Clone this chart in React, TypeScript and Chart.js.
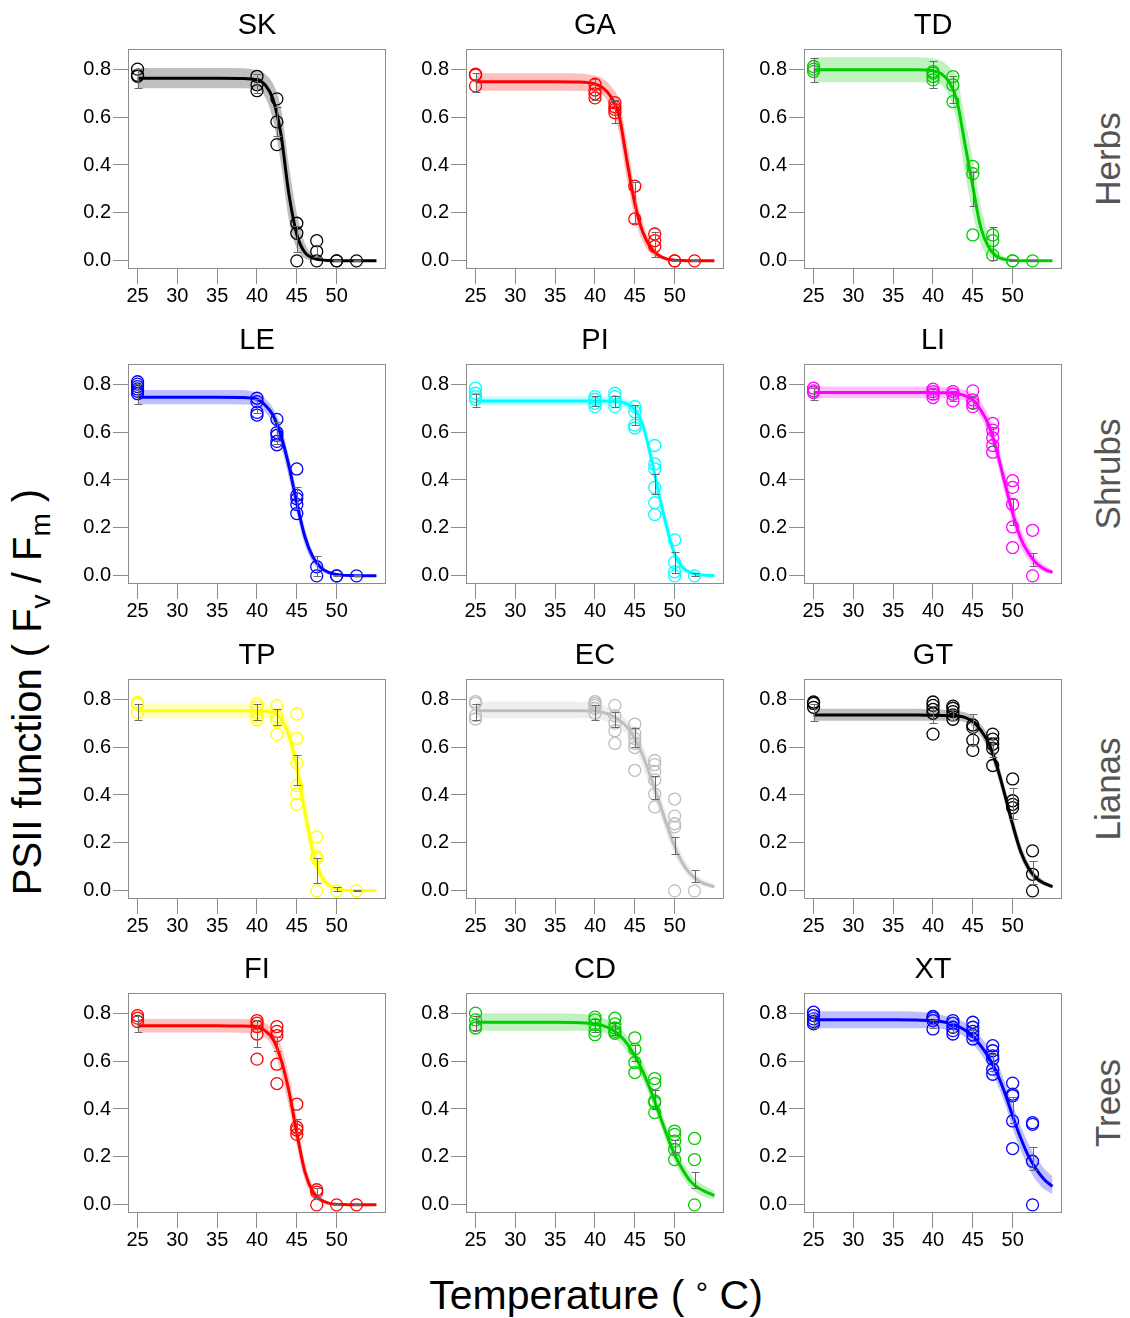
import React, { useEffect, useRef } from 'react';
import { Chart, registerables } from 'chart.js';

Chart.register(...registerables);

// ---------- shared axes / sampling ----------
const TEMPS_FIT = [25, 30, 35, 38, 40, 41, 42, 43, 44, 45, 46, 47, 48, 49, 50, 51, 52, 53, 54, 55];
const TEMPS_OBS = [25, 40, 42.5, 45, 47.5, 50, 52.5];
const X_TICKS = [25, 30, 35, 40, 45, 50];
const Y_TICKS = [0, 0.2, 0.4, 0.6, 0.8];
const ROW_LABELS = ['Herbs', 'Shrubs', 'Lianas', 'Trees'];

// ---------- SK ----------
const SK_FIT = [0.762, 0.762, 0.762, 0.761, 0.755, 0.735, 0.675, 0.53, 0.28, 0.11, 0.035, 0.012, 0.004, 0.001, 0, 0, 0, 0, 0, 0];
const SK_LO = [0.72, 0.72, 0.72, 0.72, 0.715, 0.685, 0.59, 0.41, 0.17, 0.05, 0.01, 0.002, 0, 0, 0, 0, 0, 0, 0, 0];
const SK_HI = [0.805, 0.805, 0.805, 0.804, 0.795, 0.78, 0.74, 0.64, 0.4, 0.2, 0.075, 0.028, 0.01, 0.003, 0.001, 0, 0, 0, 0, 0];
const SK_PTS = [[0.8, 0.775, 0.77], [0.77, 0.735, 0.71], [0.676, 0.58, 0.485], [0.157, 0.115, 0], [0.084, 0.039, 0], [0, 0], [0]];
const SK_ERR = [[0.72, 0.8], [0.7, 0.78], [0.52, 0.64], [0.035, 0.145], [0.016, 0.066], [0, 0.003], [0, 0.003]];

// ---------- GA ----------
const GA_FIT = [0.747, 0.747, 0.747, 0.746, 0.738, 0.722, 0.685, 0.61, 0.42, 0.24, 0.12, 0.055, 0.022, 0.008, 0.003, 0.001, 0, 0, 0, 0];
const GA_LO = [0.71, 0.71, 0.71, 0.709, 0.705, 0.69, 0.64, 0.54, 0.34, 0.18, 0.08, 0.03, 0.01, 0.002, 0, 0, 0, 0, 0, 0];
const GA_HI = [0.783, 0.783, 0.783, 0.782, 0.772, 0.76, 0.73, 0.67, 0.5, 0.3, 0.16, 0.08, 0.035, 0.012, 0.005, 0.002, 0, 0, 0, 0];
const GA_PTS = [[0.779, 0.775, 0.73], [0.737, 0.713, 0.697, 0.68], [0.66, 0.643, 0.632, 0.618], [0.312, 0.175], [0.112, 0.084, 0.06], [0, 0], [0]];
const GA_ERR = [[0.706, 0.783], [0.67, 0.76], [0.575, 0.67], [0.16, 0.33], [0.015, 0.12], [0, 0.004], [0, 0.003]];

// ---------- TD ----------
const TD_FIT = [0.797, 0.797, 0.797, 0.797, 0.793, 0.782, 0.748, 0.67, 0.49, 0.31, 0.14, 0.056, 0.018, 0.006, 0.002, 0, 0, 0, 0, 0];
const TD_LO = [0.745, 0.745, 0.745, 0.745, 0.745, 0.735, 0.69, 0.58, 0.37, 0.2, 0.07, 0.02, 0.005, 0, 0, 0, 0, 0, 0, 0];
const TD_HI = [0.85, 0.85, 0.85, 0.85, 0.845, 0.835, 0.81, 0.76, 0.6, 0.42, 0.23, 0.11, 0.04, 0.015, 0.005, 0.001, 0, 0, 0, 0];
const TD_PTS = [[0.811, 0.8, 0.79], [0.79, 0.783, 0.769, 0.755], [0.769, 0.734, 0.664], [0.394, 0.364, 0.108], [0.108, 0.084, 0.024], [0, 0], [0]];
const TD_ERR = [[0.745, 0.846], [0.72, 0.836], [0.66, 0.77], [0.23, 0.37], [0.002, 0.14], [0, 0.003], [0, 0.003]];

// ---------- LE ----------
const LE_FIT = [0.745, 0.745, 0.745, 0.744, 0.737, 0.713, 0.671, 0.586, 0.46, 0.305, 0.165, 0.08, 0.035, 0.014, 0.006, 0.002, 0.001, 0, 0, 0];
const LE_LO = [0.716, 0.716, 0.716, 0.715, 0.71, 0.685, 0.635, 0.54, 0.41, 0.26, 0.13, 0.055, 0.02, 0.006, 0.002, 0, 0, 0, 0, 0];
const LE_HI = [0.776, 0.776, 0.776, 0.775, 0.762, 0.74, 0.7, 0.625, 0.5, 0.35, 0.2, 0.1, 0.05, 0.02, 0.01, 0.004, 0.002, 0.001, 0, 0];
const LE_PTS = [[0.81, 0.8, 0.79, 0.78, 0.77, 0.76], [0.741, 0.727, 0.682, 0.671], [0.653, 0.598, 0.586, 0.561, 0.547], [0.446, 0.336, 0.322, 0.298, 0.26], [0.038, 0], [0, 0], [0]];
const LE_ERR = [[0.716, 0.8], [0.68, 0.74], [0.55, 0.64], [0.28, 0.37], [0, 0.084], [0, 0.004], [0, 0.003]];

// ---------- PI ----------
const PI_FIT = [0.73, 0.73, 0.73, 0.73, 0.73, 0.73, 0.729, 0.726, 0.718, 0.695, 0.63, 0.5, 0.345, 0.205, 0.09, 0.035, 0.013, 0.005, 0.002, 0.001];
const PI_LO = [0.712, 0.712, 0.712, 0.712, 0.712, 0.712, 0.71, 0.705, 0.7, 0.67, 0.6, 0.46, 0.305, 0.17, 0.065, 0.022, 0.007, 0.002, 0, 0];
const PI_HI = [0.748, 0.748, 0.748, 0.748, 0.748, 0.748, 0.746, 0.744, 0.735, 0.715, 0.66, 0.54, 0.385, 0.24, 0.115, 0.05, 0.02, 0.009, 0.004, 0.002];
const PI_PTS = [[0.783, 0.762, 0.748, 0.737], [0.748, 0.737, 0.72, 0.706], [0.762, 0.748, 0.727, 0.706], [0.706, 0.685, 0.629, 0.617], [0.544, 0.467, 0.446, 0.369, 0.305, 0.256], [0.15, 0.056, 0.017, 0], [0]];
const PI_ERR = [[0.705, 0.76], [0.71, 0.75], [0.705, 0.75], [0.63, 0.713], [0.34, 0.425], [0.01, 0.1], [0, 0.01]];

// ---------- LI ----------
const LI_FIT = [0.765, 0.765, 0.765, 0.765, 0.765, 0.764, 0.763, 0.761, 0.752, 0.734, 0.692, 0.629, 0.523, 0.39, 0.263, 0.158, 0.094, 0.052, 0.028, 0.014];
const LI_LO = [0.741, 0.741, 0.741, 0.741, 0.741, 0.741, 0.74, 0.738, 0.73, 0.705, 0.66, 0.59, 0.48, 0.345, 0.22, 0.12, 0.065, 0.033, 0.015, 0.007];
const LI_HI = [0.79, 0.79, 0.79, 0.79, 0.79, 0.789, 0.787, 0.784, 0.775, 0.76, 0.725, 0.665, 0.565, 0.435, 0.305, 0.2, 0.125, 0.075, 0.045, 0.025];
const LI_PTS = [[0.783, 0.772, 0.765], [0.779, 0.769, 0.758, 0.744], [0.769, 0.758, 0.73], [0.772, 0.734, 0.72, 0.706], [0.636, 0.608, 0.576, 0.544, 0.516], [0.397, 0.369, 0.298, 0.204, 0.118], [0.19, 0]];
const LI_ERR = [[0.735, 0.785], [0.74, 0.78], [0.73, 0.77], [0.7, 0.75], [0.54, 0.62], [0.214, 0.32], [0.041, 0.094]];

// ---------- TP ----------
const TP_FIT = [0.751, 0.751, 0.751, 0.751, 0.751, 0.75, 0.744, 0.72, 0.65, 0.516, 0.333, 0.165, 0.066, 0.024, 0.008, 0.003, 0.001, 0, 0, 0];
const TP_LO = [0.72, 0.72, 0.72, 0.72, 0.72, 0.719, 0.715, 0.685, 0.6, 0.45, 0.27, 0.12, 0.04, 0.012, 0.003, 0, 0, 0, 0, 0];
const TP_HI = [0.783, 0.783, 0.783, 0.783, 0.782, 0.78, 0.775, 0.755, 0.7, 0.58, 0.4, 0.22, 0.1, 0.04, 0.014, 0.005, 0.002, 0, 0, 0];
const TP_PTS = [[0.786, 0.778, 0.744], [0.779, 0.767, 0.744, 0.727, 0.713], [0.772, 0.727, 0.71, 0.653], [0.738, 0.636, 0.533, 0.439, 0.405, 0.361], [0.225, 0.143, 0.134, 0], [0], [0]];
const TP_ERR = [[0.715, 0.78], [0.715, 0.78], [0.69, 0.76], [0.44, 0.565], [0.034, 0.136], [0, 0.015], [0, 0.003]];

// ---------- EC ----------
const EC_FIT = [0.752, 0.752, 0.752, 0.752, 0.75, 0.744, 0.733, 0.713, 0.685, 0.636, 0.565, 0.474, 0.376, 0.277, 0.186, 0.115, 0.07, 0.042, 0.027, 0.017];
const EC_LO = [0.72, 0.72, 0.72, 0.72, 0.718, 0.712, 0.705, 0.685, 0.65, 0.595, 0.515, 0.425, 0.33, 0.235, 0.15, 0.09, 0.05, 0.028, 0.016, 0.01];
const EC_HI = [0.79, 0.79, 0.79, 0.789, 0.785, 0.775, 0.76, 0.74, 0.715, 0.675, 0.61, 0.52, 0.42, 0.32, 0.225, 0.145, 0.095, 0.06, 0.04, 0.028];
const EC_PTS = [[0.79, 0.782, 0.731, 0.717], [0.79, 0.782, 0.774, 0.762, 0.741], [0.774, 0.731, 0.7, 0.668, 0.615], [0.696, 0.657, 0.636, 0.615, 0.598, 0.503], [0.544, 0.527, 0.498, 0.463, 0.404, 0.35], [0.383, 0.312, 0.28, 0.267, 0], [0]];
const EC_ERR = [[0.715, 0.78], [0.715, 0.775], [0.685, 0.745], [0.6, 0.68], [0.385, 0.48], [0.155, 0.225], [0.035, 0.085]];

// ---------- GT ----------
const GT_FIT = [0.734, 0.734, 0.734, 0.734, 0.733, 0.732, 0.731, 0.73, 0.724, 0.706, 0.671, 0.615, 0.523, 0.404, 0.277, 0.165, 0.094, 0.052, 0.031, 0.017];
const GT_LO = [0.71, 0.71, 0.71, 0.71, 0.71, 0.71, 0.709, 0.708, 0.705, 0.685, 0.645, 0.585, 0.49, 0.37, 0.245, 0.14, 0.075, 0.04, 0.022, 0.011];
const GT_HI = [0.76, 0.76, 0.76, 0.76, 0.758, 0.757, 0.755, 0.752, 0.745, 0.73, 0.695, 0.645, 0.555, 0.435, 0.31, 0.195, 0.115, 0.068, 0.042, 0.026];
const GT_PTS = [[0.788, 0.782, 0.766], [0.788, 0.774, 0.757, 0.741, 0.654], [0.771, 0.762, 0.748, 0.734, 0.716], [0.692, 0.682, 0.629, 0.586], [0.654, 0.633, 0.612, 0.594, 0.523], [0.467, 0.376, 0.361, 0.347], [0.167, 0.069, 0]];
const GT_ERR = [[0.71, 0.78], [0.7, 0.77], [0.715, 0.755], [0.61, 0.737], [0.56, 0.64], [0.298, 0.43], [0.03, 0.125]];

// ---------- FI ----------
const FI_FIT = [0.747, 0.747, 0.747, 0.746, 0.744, 0.727, 0.692, 0.608, 0.476, 0.3, 0.14, 0.056, 0.021, 0.007, 0.002, 0.001, 0, 0, 0, 0];
const FI_LO = [0.719, 0.719, 0.719, 0.718, 0.717, 0.7, 0.655, 0.55, 0.41, 0.245, 0.105, 0.035, 0.011, 0.003, 0, 0, 0, 0, 0, 0];
const FI_HI = [0.776, 0.776, 0.776, 0.775, 0.772, 0.76, 0.73, 0.665, 0.54, 0.36, 0.18, 0.08, 0.032, 0.011, 0.004, 0.001, 0, 0, 0, 0];
const FI_PTS = [[0.79, 0.779, 0.765], [0.769, 0.758, 0.744, 0.713, 0.608], [0.744, 0.724, 0.706, 0.587, 0.506], [0.42, 0.324, 0.312, 0.294], [0.063, 0.053, 0], [0], [0]];
const FI_ERR = [[0.72, 0.79], [0.66, 0.77], [0.643, 0.7], [0.3, 0.36], [0.03, 0.07], [0, 0.003], [0, 0.003]];

// ---------- CD ----------
const CD_FIT = [0.762, 0.762, 0.762, 0.76, 0.755, 0.748, 0.734, 0.71, 0.674, 0.622, 0.557, 0.476, 0.385, 0.294, 0.21, 0.147, 0.098, 0.07, 0.053, 0.039];
const CD_LO = [0.727, 0.727, 0.727, 0.726, 0.725, 0.718, 0.705, 0.68, 0.64, 0.585, 0.52, 0.44, 0.35, 0.26, 0.175, 0.115, 0.072, 0.045, 0.03, 0.022];
const CD_HI = [0.8, 0.8, 0.8, 0.797, 0.79, 0.78, 0.765, 0.74, 0.705, 0.655, 0.595, 0.515, 0.42, 0.33, 0.245, 0.18, 0.13, 0.095, 0.075, 0.06];
const CD_PTS = [[0.8, 0.772, 0.748, 0.738], [0.783, 0.772, 0.752, 0.727, 0.71], [0.779, 0.755, 0.738, 0.724, 0.716], [0.697, 0.65, 0.594, 0.552], [0.527, 0.506, 0.434, 0.427, 0.385], [0.308, 0.294, 0.266, 0.231, 0.189], [0.277, 0.189, 0]];
const CD_ERR = [[0.73, 0.79], [0.72, 0.775], [0.71, 0.76], [0.6, 0.665], [0.4, 0.48], [0.22, 0.27], [0.07, 0.137]];

// ---------- XT ----------
const XT_FIT = [0.772, 0.772, 0.772, 0.771, 0.769, 0.765, 0.758, 0.747, 0.73, 0.703, 0.664, 0.615, 0.552, 0.469, 0.371, 0.28, 0.203, 0.147, 0.105, 0.077];
const XT_LO = [0.737, 0.737, 0.737, 0.737, 0.738, 0.735, 0.73, 0.72, 0.7, 0.67, 0.63, 0.575, 0.51, 0.425, 0.32, 0.23, 0.155, 0.1, 0.065, 0.045];
const XT_HI = [0.808, 0.808, 0.808, 0.806, 0.8, 0.793, 0.785, 0.775, 0.76, 0.735, 0.7, 0.655, 0.595, 0.515, 0.42, 0.33, 0.255, 0.195, 0.15, 0.12];
const XT_PTS = [[0.804, 0.79, 0.776, 0.765, 0.755], [0.786, 0.779, 0.769, 0.734], [0.769, 0.758, 0.741, 0.727, 0.713], [0.762, 0.741, 0.724, 0.71, 0.692], [0.664, 0.643, 0.622, 0.608, 0.566, 0.545], [0.508, 0.462, 0.455, 0.35, 0.235], [0.343, 0.336, 0.182, 0]];
const XT_ERR = [[0.74, 0.8], [0.738, 0.77], [0.72, 0.76], [0.682, 0.73], [0.56, 0.63], [0.34, 0.45], [0.147, 0.242]];

type PanelData = {
  name: string;
  color: string;
  fit: number[];
  lo: number[];
  hi: number[];
  pts: number[][];
  err: number[][];
};

const PANELS: PanelData[] = [
  { name: 'SK', color: '#000000', fit: SK_FIT, lo: SK_LO, hi: SK_HI, pts: SK_PTS, err: SK_ERR },
  { name: 'GA', color: '#FF0000', fit: GA_FIT, lo: GA_LO, hi: GA_HI, pts: GA_PTS, err: GA_ERR },
  { name: 'TD', color: '#00CD00', fit: TD_FIT, lo: TD_LO, hi: TD_HI, pts: TD_PTS, err: TD_ERR },
  { name: 'LE', color: '#0000FF', fit: LE_FIT, lo: LE_LO, hi: LE_HI, pts: LE_PTS, err: LE_ERR },
  { name: 'PI', color: '#00FFFF', fit: PI_FIT, lo: PI_LO, hi: PI_HI, pts: PI_PTS, err: PI_ERR },
  { name: 'LI', color: '#FF00FF', fit: LI_FIT, lo: LI_LO, hi: LI_HI, pts: LI_PTS, err: LI_ERR },
  { name: 'TP', color: '#FFFF00', fit: TP_FIT, lo: TP_LO, hi: TP_HI, pts: TP_PTS, err: TP_ERR },
  { name: 'EC', color: '#BEBEBE', fit: EC_FIT, lo: EC_LO, hi: EC_HI, pts: EC_PTS, err: EC_ERR },
  { name: 'GT', color: '#000000', fit: GT_FIT, lo: GT_LO, hi: GT_HI, pts: GT_PTS, err: GT_ERR },
  { name: 'FI', color: '#FF0000', fit: FI_FIT, lo: FI_LO, hi: FI_HI, pts: FI_PTS, err: FI_ERR },
  { name: 'CD', color: '#00CD00', fit: CD_FIT, lo: CD_LO, hi: CD_HI, pts: CD_PTS, err: CD_ERR },
  { name: 'XT', color: '#0000FF', fit: XT_FIT, lo: XT_LO, hi: XT_HI, pts: XT_PTS, err: XT_ERR },
];

// ---------- layout constants ----------
const FONT = '"Liberation Sans", Arial, Helvetica, sans-serif';
const AXIS_GRAY = '#8c8c8c';
const ERR_COLOR = '#6a6a6a';
const CANVAS_W = 328;
const CANVAS_H = 304;
const Y_AXIS_W = 58;
const X_AXIS_H = 40;
const COL_LEFTS = [70, 408, 746];
const ROW_TOPS = [9, 324, 639, 953];
const ROW_CENTERS = [159, 474, 789, 1103];

function rgba(hex: string, a: number): string {
  const r = parseInt(hex.slice(1, 3), 16);
  const g = parseInt(hex.slice(3, 5), 16);
  const b = parseInt(hex.slice(5, 7), 16);
  return `rgba(${r},${g},${b},${a})`;
}

function Panel({ p, left, top }: { p: PanelData; left: number; top: number }) {
  const ref = useRef<HTMLCanvasElement>(null);

  useEffect(() => {
    const canvas = ref.current;
    if (!canvas) return;

    const fitData = TEMPS_FIT.map((t, i) => ({ x: t, y: p.fit[i] }));
    const loData = TEMPS_FIT.map((t, i) => ({ x: t, y: p.lo[i] }));
    const hiData = TEMPS_FIT.map((t, i) => ({ x: t, y: p.hi[i] }));
    const ptData: { x: number; y: number }[] = [];
    TEMPS_OBS.forEach((t, i) => p.pts[i].forEach((v) => ptData.push({ x: t, y: v })));

    const errPlugin = {
      id: 'errbars',
      afterDatasetsDraw(chart: any) {
        const { ctx } = chart;
        const xs = chart.scales.x;
        const ys = chart.scales.y;
        ctx.save();
        ctx.strokeStyle = ERR_COLOR;
        ctx.lineWidth = 1;
        TEMPS_OBS.forEach((t, i) => {
          const [lo, hi] = p.err[i];
          const px = Math.round(xs.getPixelForValue(t)) + 0.5;
          const y1 = Math.round(ys.getPixelForValue(lo)) + 0.5;
          const y2 = Math.round(ys.getPixelForValue(hi)) + 0.5;
          ctx.beginPath();
          ctx.moveTo(px, y1);
          ctx.lineTo(px, y2);
          ctx.moveTo(px - 4, y1);
          ctx.lineTo(px + 4, y1);
          ctx.moveTo(px - 4, y2);
          ctx.lineTo(px + 4, y2);
          ctx.stroke();
        });
        ctx.restore();
      },
    };

    const boxPlugin = {
      id: 'box',
      afterDraw(chart: any) {
        const { ctx, chartArea } = chart;
        ctx.save();
        ctx.strokeStyle = AXIS_GRAY;
        ctx.lineWidth = 1;
        const l = Math.round(chartArea.left) + 0.5;
        const t = Math.round(chartArea.top) + 0.5;
        const r = Math.round(chartArea.right) - 0.5;
        const b = Math.round(chartArea.bottom) - 0.5;
        ctx.strokeRect(l, t, r - l, b - t);
        ctx.restore();
      },
    };

    const tickFont = { family: FONT, size: 20 };
    const grid = {
      display: true,
      drawOnChartArea: false,
      drawTicks: true,
      tickLength: 15,
      color: AXIS_GRAY,
      tickColor: AXIS_GRAY,
      lineWidth: 1,
    };

    const chart = new Chart(canvas, {
      type: 'line',
      data: {
        datasets: [
          {
            label: 'obs',
            data: ptData,
            showLine: false,
            pointRadius: 6,
            pointHoverRadius: 6,
            pointBorderWidth: 1.3,
            pointBorderColor: p.color,
            pointBackgroundColor: 'rgba(0,0,0,0)',
            borderColor: p.color,
            backgroundColor: 'rgba(0,0,0,0)',
            order: 0,
          },
          {
            label: 'fit',
            data: fitData,
            borderColor: p.color,
            borderWidth: 3,
            pointRadius: 0,
            cubicInterpolationMode: 'monotone',
            fill: false,
            order: 1,
          },
          {
            label: 'upper',
            data: hiData,
            borderWidth: 0,
            borderColor: 'rgba(0,0,0,0)',
            pointRadius: 0,
            cubicInterpolationMode: 'monotone',
            fill: '+1',
            backgroundColor: rgba(p.color, 0.25),
            order: 2,
          },
          {
            label: 'lower',
            data: loData,
            borderWidth: 0,
            borderColor: 'rgba(0,0,0,0)',
            pointRadius: 0,
            cubicInterpolationMode: 'monotone',
            fill: false,
            order: 3,
          },
        ],
      } as any,
      options: {
        animation: false,
        responsive: false,
        maintainAspectRatio: false,
        devicePixelRatio: 1,
        layout: { padding: { left: 0, right: 12, top: 0, bottom: 4 } },
        plugins: {
          legend: { display: false },
          tooltip: { enabled: false },
          title: {
            display: true,
            text: p.name,
            fullSize: false,
            color: '#000000',
            font: { family: FONT, size: 29, weight: 'normal', lineHeight: 1.2 },
            padding: { top: 0, bottom: 5.2 },
          },
        },
        scales: {
          x: {
            type: 'linear',
            position: 'bottom',
            min: 23.8,
            max: 56.2,
            afterBuildTicks: (s: any) => {
              s.ticks = X_TICKS.map((v) => ({ value: v }));
            },
            afterFit: (s: any) => {
              s.height = X_AXIS_H;
            },
            ticks: {
              font: tickFont,
              color: '#000000',
              padding: 0,
              maxRotation: 0,
              minRotation: 0,
              autoSkip: false,
              callback: (v: any) => String(v),
            },
            grid,
            border: { display: false },
          },
          y: {
            type: 'linear',
            position: 'left',
            min: -0.034,
            max: 0.884,
            afterBuildTicks: (s: any) => {
              s.ticks = Y_TICKS.map((v) => ({ value: v }));
            },
            afterFit: (s: any) => {
              s.width = Y_AXIS_W;
            },
            ticks: {
              font: tickFont,
              color: '#000000',
              padding: 2,
              autoSkip: false,
              callback: (v: any) => Number(v).toFixed(1),
            },
            grid,
            border: { display: false },
          },
        },
      } as any,
      plugins: [errPlugin, boxPlugin],
    });

    return () => chart.destroy();
  }, [p]);

  return (
    <div style={{ position: 'absolute', left, top, width: CANVAS_W, height: CANVAS_H }}>
      <canvas ref={ref} width={CANVAS_W} height={CANVAS_H} style={{ width: CANVAS_W, height: CANVAS_H, display: 'block' }} />
    </div>
  );
}

export default function App() {
  return (
    <div
      style={{
        position: 'absolute',
        left: 0,
        top: 0,
        width: 1130,
        height: 1318,
        background: '#ffffff',
        fontFamily: FONT,
        overflow: 'hidden',
      }}
    >
      {PANELS.map((p, i) => (
        <Panel key={p.name} p={p} left={COL_LEFTS[i % 3]} top={ROW_TOPS[Math.floor(i / 3)]} />
      ))}

      {ROW_LABELS.map((lab, r) => (
        <div
          key={lab}
          style={{
            position: 'absolute',
            left: 1107,
            top: ROW_CENTERS[r],
            transform: 'translate(-50%, -50%) rotate(-90deg)',
            fontSize: 35,
            lineHeight: 1,
            color: '#555555',
            whiteSpace: 'nowrap',
          }}
        >
          {lab}
        </div>
      ))}

      <div
        style={{
          position: 'absolute',
          left: 31,
          top: 692,
          transform: 'translate(-50%, -50%) rotate(-90deg)',
          fontSize: 40,
          lineHeight: 1,
          color: '#000000',
          whiteSpace: 'nowrap',
        }}
      >
        PSII function ( F<sub style={{ fontSize: '0.7em' }}>v</sub> / F<sub style={{ fontSize: '0.7em' }}>m</sub> )
      </div>

      <div
        style={{
          position: 'absolute',
          left: 596,
          top: 1295,
          transform: 'translate(-50%, -50%)',
          fontSize: 41,
          lineHeight: 1,
          color: '#000000',
          whiteSpace: 'nowrap',
        }}
      >
        Temperature ( <span style={{ fontSize: '0.75em', position: 'relative', top: '-0.15em' }}>°</span> C)
      </div>
    </div>
  );
}
